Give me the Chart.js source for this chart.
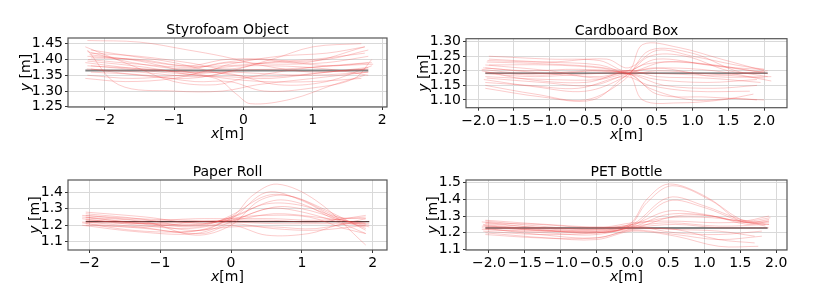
<!DOCTYPE html>
<html>
<head>
<meta charset="utf-8">
<script src="https://cdn.jsdelivr.net/npm/chart.js@4.4.1/dist/chart.umd.min.js"></script>
<style>
  html, body { margin: 0; padding: 0; background: #fff; }
  #wrap { position: relative; width: 822px; height: 308px; }
  canvas { position: absolute; }
</style>
</head>
<body>
<div id="wrap">
  <canvas id="styro" width="411" height="154" style="left:0;top:0"></canvas>
  <canvas id="cardboard" width="411" height="154" style="left:411px;top:0"></canvas>
  <canvas id="paper" width="411" height="154" style="left:0;top:154px"></canvas>
  <canvas id="pet" width="411" height="154" style="left:411px;top:154px"></canvas>
</div>
<script>
// trajectories, [x, y] in metres
const styroCurves = [
    [[-2.25,1.46],[-1.5,1.455],[-0.8,1.43],[-0.3,1.41],[0.3,1.38],[1.0,1.36],[1.75,1.37]],
    [[-2.28,1.44],[-1.6,1.38],[-1.0,1.33],[-0.4,1.32],[0,1.34],[0.8,1.37],[1.8,1.39]],
    [[-2.25,1.43],[-1.8,1.32],[-1.0,1.30],[-0.3,1.30],[0.2,1.32],[1.0,1.34],[1.8,1.36]],
    [[-2.2,1.42],[-1.5,1.41],[-0.8,1.39],[-0.2,1.37],[0.4,1.40],[1.0,1.44],[1.7,1.45]],
    [[-2.2,1.38],[-1.2,1.36],[-0.4,1.34],[-0.1,1.29],[0.1,1.26],[0.7,1.275],[1.3,1.32],[1.75,1.35]],
    [[-2.28,1.39],[-1.5,1.37],[-0.8,1.36],[-0.2,1.355],[0.5,1.32],[1.2,1.33],[1.85,1.38]],
    [[-2.25,1.41],[-1.6,1.40],[-0.9,1.38],[-0.25,1.38],[0.4,1.39],[1.2,1.40],[1.8,1.43]],
    [[-2.2,1.37],[-1.5,1.35],[-0.8,1.34],[-0.25,1.36],[0.3,1.39],[1.0,1.40],[1.75,1.42]],
    [[-2.25,1.35],[-1.6,1.34],[-0.9,1.35],[-0.3,1.36],[0.3,1.355],[1.0,1.35],[1.8,1.36]],
    [[-2.2,1.36],[-1.4,1.35],[-0.7,1.33],[-0.2,1.33],[0.3,1.30],[1.0,1.31],[1.6,1.34],[1.85,1.40]],
    [[-2.25,1.425],[-1.6,1.39],[-0.8,1.37],[-0.3,1.39],[0.2,1.40],[0.9,1.39],[1.75,1.44]],
    [[-2.28,1.34],[-1.7,1.33],[-1.0,1.34],[-0.3,1.375],[0.4,1.38],[1.2,1.37],[1.8,1.35]],
    [[-2.2,1.405],[-1.5,1.40],[-0.8,1.38],[-0.25,1.40],[0.4,1.40],[1.2,1.38],[1.85,1.39]],
    [[-2.25,1.395],[-1.4,1.375],[-0.7,1.35],[-0.2,1.345],[0.4,1.34],[1.2,1.36],[1.8,1.37]],
    [[-2.22,1.415],[-1.5,1.395],[-0.8,1.36],[-0.25,1.34],[0.3,1.33],[1.0,1.33],[1.7,1.34]],
    [[-2.25,1.38],[-1.4,1.37],[-0.6,1.36],[-0.2,1.385],[0.5,1.41],[1.2,1.42],[1.75,1.44]],
    [[-2.26,1.37],[-1.5,1.36],[-0.6,1.345],[-0.1,1.365],[0.6,1.37],[1.3,1.38],[1.87,1.385]],
    [[-2.2,1.43],[-1.6,1.41],[-1.0,1.39],[-0.3,1.355],[0.3,1.345],[1.0,1.355],[1.8,1.375]],
    [[-2.24,1.40],[-1.5,1.385],[-0.7,1.375],[-0.2,1.39],[0.5,1.385],[1.2,1.39],[1.8,1.41]]
];
const styroRef = [[-2.28,1.365],[1.8,1.365]];
const styroXTicks = [-2, -1, 0, 1, 2];
const styroYTicks = [1.25, 1.30, 1.35, 1.40, 1.45];

const cardCurves = [
    [[-1.85,1.25],[-1.0,1.24],[-0.3,1.235],[0.1,1.20],[0.3,1.29],[0.8,1.28],[1.4,1.24],[2.0,1.20]],
    [[-1.9,1.15],[-1.2,1.12],[-0.5,1.10],[0.05,1.17],[0.4,1.27],[1.0,1.26],[1.6,1.20],[2.05,1.18]],
    [[-1.9,1.21],[-1.0,1.19],[-0.3,1.18],[0.1,1.19],[0.3,1.10],[0.8,1.09],[1.4,1.10],[1.85,1.12]],
    [[-1.95,1.20],[-1.3,1.17],[-0.5,1.16],[0.1,1.19],[0.5,1.12],[1.2,1.11],[2.0,1.10]],
    [[-1.85,1.22],[-1.0,1.22],[-0.3,1.21],[0.1,1.195],[0.6,1.23],[1.3,1.22],[2.05,1.19]],
    [[-1.9,1.18],[-1.0,1.17],[-0.3,1.17],[0.1,1.19],[0.5,1.17],[1.2,1.16],[1.9,1.17]],
    [[-1.88,1.23],[-1.2,1.225],[-0.4,1.215],[0.1,1.20],[0.6,1.21],[1.3,1.20],[2.1,1.165]],
    [[-1.92,1.17],[-1.2,1.145],[-0.5,1.13],[0.05,1.18],[0.4,1.25],[0.9,1.25],[1.5,1.20],[1.95,1.19]],
    [[-1.9,1.19],[-1.2,1.18],[-0.4,1.19],[0.1,1.19],[0.6,1.15],[1.3,1.14],[1.9,1.15]],
    [[-1.85,1.24],[-1.1,1.23],[-0.3,1.22],[0.1,1.19],[0.5,1.20],[1.2,1.19],[2.0,1.175]],
    [[-1.9,1.16],[-1.3,1.15],[-0.6,1.14],[0.05,1.18],[0.4,1.15],[1.0,1.13],[1.8,1.13]],
    [[-1.95,1.205],[-1.3,1.19],[-0.5,1.20],[0.1,1.20],[0.5,1.24],[1.2,1.22],[2.0,1.195]],
    [[-1.9,1.22],[-1.0,1.20],[-0.3,1.175],[0.1,1.20],[0.5,1.18],[1.2,1.175],[1.95,1.16]],
    [[-1.88,1.175],[-1.1,1.16],[-0.4,1.15],[0.1,1.19],[0.5,1.21],[1.3,1.18],[2.1,1.18]],
    [[-1.9,1.14],[-1.1,1.11],[-0.4,1.10],[0.05,1.18],[0.3,1.22],[0.8,1.23],[1.6,1.21],[2.0,1.205]],
    [[-1.93,1.21],[-1.3,1.20],[-0.6,1.205],[0.1,1.19],[0.4,1.14],[1.0,1.10],[1.6,1.105],[1.9,1.10]],
    [[-1.87,1.235],[-1.0,1.23],[-0.2,1.24],[0.1,1.21],[0.5,1.27],[1.0,1.25],[1.6,1.22],[2.0,1.205]],
    [[-1.9,1.195],[-1.1,1.185],[-0.4,1.20],[0.1,1.195],[0.6,1.19],[1.4,1.185],[2.05,1.20]]
];
const cardRef = [[-1.9,1.192],[2.05,1.192]];
const cardXTicks = [-2.0, -1.5, -1.0, -0.5, 0.0, 0.5, 1.0, 1.5, 2.0];
const cardYTicks = [1.10, 1.15, 1.20, 1.25, 1.30];

const paperCurves = [
    [[-2.05,1.27],[-1.3,1.24],[-0.6,1.20],[0,1.25],[0.3,1.38],[0.65,1.45],[1.2,1.35],[1.9,1.08]],
    [[-2.05,1.22],[-1.3,1.19],[-0.6,1.16],[0,1.24],[0.5,1.40],[1.0,1.35],[1.5,1.24],[1.95,1.20]],
    [[-2.1,1.25],[-1.2,1.22],[-0.5,1.14],[0,1.20],[0.4,1.35],[0.8,1.38],[1.4,1.28],[1.9,1.17]],
    [[-2.05,1.23],[-1.2,1.21],[-0.5,1.19],[0,1.23],[0.6,1.31],[1.0,1.30],[1.5,1.24],[1.95,1.19]],
    [[-2.1,1.20],[-1.3,1.16],[-0.5,1.15],[0,1.22],[0.5,1.30],[0.9,1.29],[1.5,1.22],[1.9,1.15]],
    [[-2.05,1.26],[-1.2,1.23],[-0.5,1.24],[0,1.24],[0.6,1.24],[1.2,1.23],[1.9,1.25]],
    [[-2.1,1.24],[-1.3,1.20],[-0.6,1.18],[0,1.21],[0.6,1.18],[1.2,1.17],[1.9,1.20]],
    [[-2.05,1.21],[-1.2,1.18],[-0.4,1.15],[0,1.20],[0.5,1.14],[1.1,1.15],[1.5,1.20],[1.9,1.22]],
    [[-2.05,1.28],[-1.2,1.25],[-0.4,1.21],[0,1.25],[0.5,1.33],[1.0,1.32],[1.5,1.25],[1.9,1.24]],
    [[-2.1,1.22],[-1.3,1.21],[-0.5,1.22],[0,1.22],[0.6,1.21],[1.2,1.21],[1.95,1.21]],
    [[-2.05,1.25],[-1.1,1.20],[-0.4,1.17],[0,1.24],[0.5,1.26],[1.1,1.25],[1.6,1.18],[1.9,1.15]],
    [[-2.1,1.215],[-1.4,1.17],[-0.7,1.16],[0,1.19],[0.6,1.19],[1.2,1.18],[1.9,1.24]],
    [[-2.05,1.235],[-1.2,1.21],[-0.4,1.20],[0,1.26],[0.5,1.38],[0.9,1.37],[1.4,1.27],[1.9,1.18]],
    [[-2.05,1.20],[-1.2,1.19],[-0.5,1.22],[0,1.23],[0.6,1.23],[1.2,1.22],[1.9,1.26]],
    [[-2.1,1.26],[-1.3,1.24],[-0.6,1.23],[0,1.23],[0.6,1.27],[1.2,1.25],[1.9,1.21]],
    [[-2.05,1.245],[-1.2,1.215],[-0.5,1.205],[0,1.245],[0.6,1.35],[1.0,1.33],[1.5,1.23],[1.9,1.19]]
];
const paperRef = [[-2.05,1.222],[1.95,1.222]];
const paperXTicks = [-2, -1, 0, 1, 2];
const paperYTicks = [1.1, 1.2, 1.3, 1.4];

const petCurves = [
    [[-2.05,1.27],[-1.3,1.24],[-0.5,1.22],[-0.05,1.25],[0.2,1.40],[0.5,1.49],[1.0,1.42],[1.5,1.28],[1.85,1.24]],
    [[-2.08,1.25],[-1.3,1.22],[-0.5,1.20],[-0.05,1.24],[0.2,1.38],[0.55,1.48],[1.1,1.39],[1.5,1.27],[1.9,1.26]],
    [[-2.05,1.22],[-1.2,1.20],[-0.5,1.19],[0,1.25],[0.5,1.41],[1.0,1.36],[1.5,1.28],[1.9,1.25]],
    [[-2.1,1.24],[-1.2,1.21],[-0.4,1.21],[0,1.24],[0.5,1.39],[1.0,1.35],[1.5,1.27],[1.85,1.25]],
    [[-2.05,1.26],[-1.3,1.25],[-0.5,1.23],[0,1.25],[0.5,1.33],[1.0,1.31],[1.5,1.27],[1.9,1.30]],
    [[-2.05,1.20],[-1.2,1.17],[-0.5,1.16],[0,1.21],[0.6,1.18],[1.2,1.12],[1.75,1.12]],
    [[-2.1,1.23],[-1.3,1.19],[-0.5,1.17],[0,1.22],[0.6,1.22],[1.2,1.16],[1.7,1.14]],
    [[-2.05,1.255],[-1.2,1.23],[-0.4,1.23],[0,1.25],[0.5,1.29],[1.1,1.29],[1.6,1.27],[1.92,1.29]],
    [[-2.08,1.21],[-1.3,1.19],[-0.5,1.20],[0,1.23],[0.6,1.25],[1.2,1.23],[1.9,1.23]],
    [[-2.05,1.275],[-1.2,1.25],[-0.4,1.235],[0,1.26],[0.5,1.27],[1.2,1.26],[1.9,1.27]],
    [[-2.1,1.22],[-1.2,1.21],[-0.3,1.22],[0,1.24],[0.6,1.20],[1.2,1.19],[1.8,1.21]],
    [[-2.05,1.24],[-1.3,1.225],[-0.5,1.21],[0,1.23],[0.6,1.22],[1.2,1.21],[1.7,1.18]],
    [[-2.05,1.23],[-1.2,1.215],[-0.4,1.205],[0,1.225],[0.6,1.30],[1.1,1.30],[1.6,1.26],[1.9,1.28]],
    [[-2.1,1.265],[-1.3,1.23],[-0.6,1.22],[0,1.24],[0.5,1.26],[1.2,1.24],[1.9,1.25]],
    [[-2.05,1.19],[-1.3,1.17],[-0.5,1.17],[0,1.215],[0.6,1.19],[1.2,1.16],[1.8,1.18]],
    [[-2.08,1.245],[-1.3,1.215],[-0.5,1.20],[0,1.235],[0.5,1.31],[1.1,1.30],[1.6,1.25],[1.9,1.27]]
];
const petRef = [[-2.05,1.229],[1.88,1.229]];
const petXTicks = [-2.0, -1.5, -1.0, -0.5, 0.0, 0.5, 1.0, 1.5, 2.0];
const petYTicks = [1.1, 1.2, 1.3, 1.4, 1.5];

const FONT = '"DejaVu Sans", sans-serif';

function fmt(v, dec) {
    return v.toFixed(dec).replace('-', '\u2212');
}

// frame, title and axis labels (x / y in italics)
const decorations = {
    id: 'decorations',
    afterDraw(chart, args, opts) {
        const ctx = chart.ctx;
        const a = chart.chartArea;
        ctx.save();
        ctx.strokeStyle = '#555';
        ctx.lineWidth = 1.2;
        ctx.strokeRect(a.left, a.top, a.right - a.left, a.bottom - a.top);

        ctx.fillStyle = '#000';
        ctx.font = '14px ' + FONT;
        ctx.textAlign = 'center';
        ctx.textBaseline = 'alphabetic';
        ctx.fillText(opts.title, (a.left + a.right) / 2, a.top - 4);

        drawLabel(ctx, 'x', '[m]', (a.left + a.right) / 2, a.bottom + 31);

        ctx.font = '14px ' + FONT;
        let w = 0;
        opts.yTicks.forEach(v => { w = Math.max(w, ctx.measureText(fmt(v, opts.yDec)).width); });
        const cx = a.left - 5 - w - 7;
        ctx.translate(cx, (a.top + a.bottom) / 2);
        ctx.rotate(-Math.PI / 2);
        drawLabel(ctx, 'y', ' [m]', 0, 5);
        ctx.restore();
    }
};

function drawLabel(ctx, v, rest, cx, baseline) {
    ctx.font = 'italic 14px ' + FONT;
    const w1 = ctx.measureText(v).width;
    ctx.font = '14px ' + FONT;
    const w2 = ctx.measureText(rest).width;
    const x0 = cx - (w1 + w2) / 2;
    ctx.textAlign = 'left';
    ctx.textBaseline = 'alphabetic';
    ctx.font = 'italic 14px ' + FONT;
    ctx.fillText(v, x0, baseline);
    ctx.font = '14px ' + FONT;
    ctx.fillText(rest, x0 + w1, baseline);
}

function makePanel(id, p) {
    const ctx = document.getElementById(id).getContext('2d');
    const datasets = p.curves.map(c => ({
        data: c.map(pt => ({ x: pt[0], y: pt[1] })),
        showLine: true,
        borderColor: 'rgba(240, 70, 70, 0.35)',
        borderWidth: 0.8,
        pointRadius: 0,
        tension: 0.35
    }));
    datasets.push({
        data: p.ref.map(pt => ({ x: pt[0], y: pt[1] })),
        showLine: true,
        borderColor: p.refColor,
        borderWidth: p.refWidth,
        pointRadius: 0
    });

    new Chart(ctx, {
        type: 'scatter',
        data: { datasets: datasets },
        options: {
            responsive: false,
            animation: false,
            events: [],
            layout: { padding: { left: 0, top: p.area.top, right: 411 - p.area.right, bottom: 0 } },
            plugins: {
                legend: { display: false },
                tooltip: { enabled: false },
                decorations: { title: p.title, yTicks: p.yTicks, yDec: p.yDec }
            },
            scales: {
                x: {
                    type: 'linear',
                    min: p.xMin, max: p.xMax,
                    afterBuildTicks: s => { s.ticks = p.xTicks.map(v => ({ value: v })); },
                    afterFit: s => { s.height = 154 - p.area.bottom; },
                    grid: { color: '#d9d9d9', lineWidth: 1, tickLength: 3, tickColor: '#333' },
                    border: { display: false },
                    ticks: {
                        autoSkip: false, maxRotation: 0, padding: 2,
                        color: '#000', font: { family: FONT, size: 14 },
                        callback: v => fmt(v, p.xDec)
                    }
                },
                y: {
                    type: 'linear',
                    min: p.yMin, max: p.yMax,
                    afterBuildTicks: s => { s.ticks = p.yTicks.map(v => ({ value: v })); },
                    afterFit: s => { s.width = p.area.left; },
                    grid: { color: '#d9d9d9', lineWidth: 1, tickLength: 3, tickColor: '#333' },
                    border: { display: false },
                    ticks: {
                        autoSkip: false, padding: 2,
                        color: '#000', font: { family: FONT, size: 14 },
                        callback: v => fmt(v, p.yDec)
                    }
                }
            }
        },
        plugins: [decorations]
    });
}

makePanel('styro', {
    title: 'Styrofoam Object', curves: styroCurves, ref: styroRef,
    xTicks: styroXTicks, yTicks: styroYTicks, xDec: 0, yDec: 2,
    xMin: -2.53, xMax: 2.07, yMin: 1.2495, yMax: 1.468,
    area: { left: 68, right: 387, top: 38, bottom: 107 },
    refColor: 'rgba(90, 90, 90, 0.75)', refWidth: 2
});
makePanel('cardboard', {
    title: 'Cardboard Box', curves: cardCurves, ref: cardRef,
    xTicks: cardXTicks, yTicks: cardYTicks, xDec: 1, yDec: 2,
    xMin: -2.17, xMax: 2.32, yMin: 1.0735, yMax: 1.31,
    area: { left: 55, right: 376, top: 38.7, bottom: 107.7 },
    refColor: 'rgba(50, 50, 50, 0.8)', refWidth: 1.2
});
makePanel('paper', {
    title: 'Paper Roll', curves: paperCurves, ref: paperRef,
    xTicks: paperXTicks, yTicks: paperYTicks, xDec: 0, yDec: 1,
    xMin: -2.30, xMax: 2.20, yMin: 1.05, yMax: 1.475,
    area: { left: 68, right: 387, top: 26, bottom: 96 },
    refColor: 'rgba(60, 30, 30, 0.85)', refWidth: 1.2
});
makePanel('pet', {
    title: 'PET Bottle', curves: petCurves, ref: petRef,
    xTicks: petXTicks, yTicks: petYTicks, xDec: 1, yDec: 1,
    xMin: -2.32, xMax: 2.15, yMin: 1.098, yMax: 1.514,
    area: { left: 55, right: 376, top: 26, bottom: 96 },
    refColor: 'rgba(90, 90, 90, 0.75)', refWidth: 2
});
</script>
</body>
</html>
